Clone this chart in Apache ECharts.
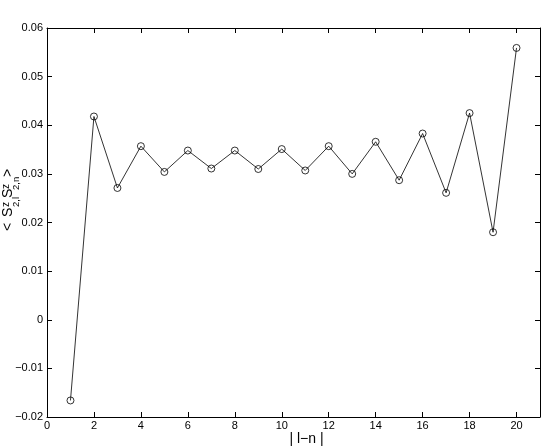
<!DOCTYPE html>
<html>
<head>
<meta charset="utf-8">
<script src="https://cdn.jsdelivr.net/npm/echarts@6/dist/echarts.min.js"></script>
<style>html,body{margin:0;padding:0;background:#fff;}#c{width:545px;height:447px;}</style>
</head>
<body>
<div id="c"></div>
<script>
var distances = [1, 2, 3, 4, 5, 6, 7, 8, 9, 10, 11, 12, 13, 14, 15, 16, 17, 18, 19, 20];
var correlation = [-0.0166, 0.0418, 0.0271, 0.0357, 0.0304, 0.0348, 0.0311, 0.0348, 0.0310, 0.0351,
                   0.0307, 0.0357, 0.0300, 0.0366, 0.0287, 0.0383, 0.0261, 0.0425, 0.0180, 0.0559];
var xTickLabels = ['0', '2', '4', '6', '8', '10', '12', '14', '16', '18', '20'];
var yTickLabels = ['\u22120.02', '\u22120.01', '0', '0.01', '0.02', '0.03', '0.04', '0.05', '0.06'];
var xLabel = '| l\u2212n |';

var FONT = '"Liberation Sans", Arial, Helvetica, sans-serif';
var chart = echarts.init(document.getElementById('c'));

var points = distances.map(function (d, i) { return [d, correlation[i]]; });

function yFmt(v) {
  var idx = Math.round((v + 0.02) / 0.01);
  return yTickLabels[idx] !== undefined ? yTickLabels[idx] : '';
}
function xFmt(v) {
  var idx = Math.round(v / 2);
  return (Math.abs(v - idx * 2) < 1e-9 && xTickLabels[idx] !== undefined) ? xTickLabels[idx] : '';
}

var axisCommon = {
  axisLine: { show: true, onZero: false, lineStyle: { color: '#000', width: 1 } },
  axisTick: { show: true, inside: true, length: 5, lineStyle: { color: '#000', width: 1 } },
  splitLine: { show: false }
};

chart.setOption({
  animation: false,
  backgroundColor: '#fff',
  grid: { left: 47, right: 5, top: 28, bottom: 30, containLabel: false, outerBoundsMode: 'none' },
  xAxis: [
    Object.assign({}, axisCommon, {
      type: 'value', position: 'bottom', min: 0, max: 21, interval: 2,
      axisLabel: { show: true, formatter: xFmt, showMaxLabel: false, margin: 3, color: '#000', fontSize: 11, fontFamily: FONT },
      name: xLabel, nameLocation: 'middle', nameGap: 15, nameMoveOverlap: false,
      nameTextStyle: { color: '#000', fontSize: 14, lineHeight: 15, fontFamily: FONT, verticalAlign: 'top', padding: [0, 0, 0, 26] }
    }),
    Object.assign({}, axisCommon, {
      type: 'value', position: 'top', min: 0, max: 21, interval: 2,
      axisLabel: { show: false }
    })
  ],
  yAxis: [
    Object.assign({}, axisCommon, {
      type: 'value', position: 'left', min: -0.02, max: 0.06, interval: 0.01,
      axisLabel: { show: true, formatter: yFmt, margin: 4, color: '#000', fontSize: 11, fontFamily: FONT }
    }),
    Object.assign({}, axisCommon, {
      type: 'value', position: 'right', min: -0.02, max: 0.06, interval: 0.01,
      axisLabel: { show: false }
    })
  ],
  graphic: [{
    type: 'group',
    x: 13, y: 231,
    rotation: Math.PI / 2,
    children: [
      { type: 'text', x: 0, y: -5, style: { text: '<', fontSize: 14, fontFamily: FONT, fill: '#000', textAlign: 'left', textVerticalAlign: 'middle' } },
      { type: 'text', x: 14, y: -5, style: { text: 'S', fontSize: 14, fontFamily: FONT, fill: '#000', textAlign: 'left', textVerticalAlign: 'middle' } },
      { type: 'text', x: 24, y: -6.5, style: { text: 'z', fontSize: 10, fontFamily: FONT, fill: '#000', textAlign: 'left', textVerticalAlign: 'middle' } },
      { type: 'text', x: 24, y: 3.5, style: { text: '2,l', fontSize: 9.5, fontFamily: FONT, fill: '#000', textAlign: 'left', textVerticalAlign: 'middle' } },
      { type: 'text', x: 33, y: -5, style: { text: 'S', fontSize: 14, fontFamily: FONT, fill: '#000', textAlign: 'left', textVerticalAlign: 'middle' } },
      { type: 'text', x: 42, y: -6.5, style: { text: 'z', fontSize: 10, fontFamily: FONT, fill: '#000', textAlign: 'left', textVerticalAlign: 'middle' } },
      { type: 'text', x: 41, y: 3.5, style: { text: '2,n', fontSize: 9.5, fontFamily: FONT, fill: '#000', textAlign: 'left', textVerticalAlign: 'middle' } },
      { type: 'text', x: 54, y: -5, style: { text: '>', fontSize: 14, fontFamily: FONT, fill: '#000', textAlign: 'left', textVerticalAlign: 'middle' } }
    ]
  }],
  series: [{
    type: 'line',
    xAxisIndex: 0, yAxisIndex: 0,
    data: points,
    symbol: 'circle',
    symbolSize: 7,
    showAllSymbol: true,
    lineStyle: { color: '#000', width: 0.8 },
    itemStyle: { color: 'rgba(0,0,0,0)', borderColor: '#000', borderWidth: 0.8 },
    emphasis: { disabled: true }
  }]
});
</script>
</body>
</html>
